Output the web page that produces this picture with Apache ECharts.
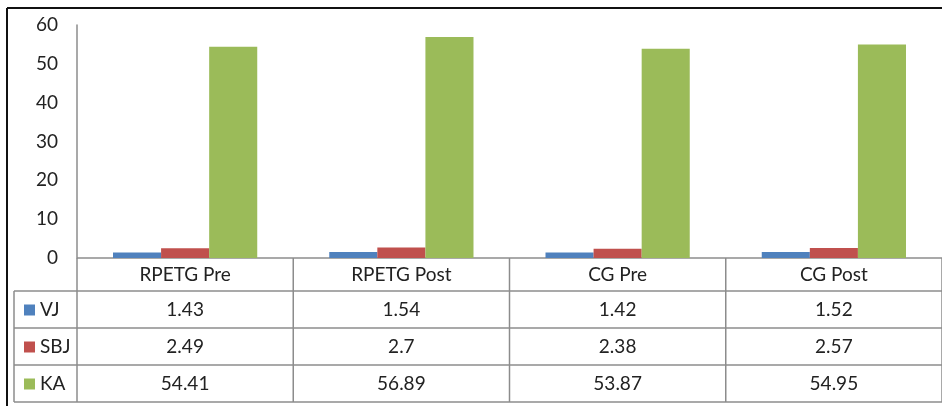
<!DOCTYPE html>
<html>
<head>
<meta charset="utf-8">
<script src="https://cdn.jsdelivr.net/npm/echarts@6/dist/echarts.min.js"></script>
<style>
  html, body { margin: 0; padding: 0; background: #fff; }
  #chart { width: 942px; height: 406px; }
</style>
</head>
<body>
<div id="chart"></div>
<script>
// data
const categories = ['RPETG Pre', 'RPETG Post', 'CG Pre', 'CG Post']
const seriesNames = ['VJ', 'SBJ', 'KA']
const vjValues = [1.43, 1.54, 1.42, 1.52]
const sbjValues = [2.49, 2.7, 2.38, 2.57]
const kaValues = [54.41, 56.89, 53.87, 54.95]
const yMin = 0, yMax = 60, yStep = 10

const colors = ['#4F81BD', '#C0504D', '#9BBB59']
const allValues = [vjValues, sbjValues, kaValues]
const font = 'Lato, "Open Sans", sans-serif'
const fontSize = 19
const lineColor = '#8c8c8c'

const chart = echarts.init(document.getElementById('chart'))

chart.setOption({
  animation: false,
  textStyle: { fontFamily: font },
  grid: { left: 77, right: -2, top: 25, bottom: 148 },
  xAxis: {
    type: 'category',
    data: categories,
    axisLine: { show: false },
    axisTick: { show: false },
    axisLabel: { color: '#222', fontSize: fontSize, margin: 7, verticalAlign: 'top' }
  },
  yAxis: {
    type: 'value',
    min: yMin, max: yMax, interval: yStep,
    axisLine: { show: true, lineStyle: { color: '#8c8c8c', width: 1.5 } },
    axisTick: { show: false },
    splitLine: { show: false },
    axisLabel: { color: '#222', fontSize: fontSize, margin: 19 }
  },
  series: allValues.map((vals, i) => ({
    name: seriesNames[i],
    type: 'bar',
    data: vals,
    barGap: '0%',
    barCategoryGap: '33.3%',
    itemStyle: { color: colors[i] }
  }))
})

// data table under the plot, positioned from the axes
const xs = categories.map(c => chart.convertToPixel({ xAxisIndex: 0 }, c))
const band = xs[1] - xs[0]
const zeroY = chart.convertToPixel({ yAxisIndex: 0 }, 0)
const tableLeft = 14
const plotLeft = xs[0] - band / 2
const bounds = xs.map(x => x - band / 2).concat([xs[xs.length - 1] + band / 2])
const headerBottom = zeroY + 33
const rowH = 37
const rowTops = [0, 1, 2, 3].map(k => headerBottom + k * rowH)
const tableBottom = rowTops[3]

const g = []
const line = (x1, y1, x2, y2, color, w) => g.push({
  type: 'line', silent: true,
  shape: { x1, y1, x2, y2 },
  style: { stroke: color || lineColor, lineWidth: w || 1.5 }
})

// outer chart frame (top and left)
line(7, 8, 942, 8, '#111', 2)
line(7, 8, 7, 406, '#111', 2)

// horizontal rules
line(plotLeft, zeroY, 942, zeroY)
rowTops.forEach(y => line(tableLeft, y, 942, y))
// vertical rules
bounds.forEach(x => line(x, zeroY, x, tableBottom))
line(tableLeft, headerBottom, tableLeft, tableBottom)

// rows: legend key + values
seriesNames.forEach((name, r) => {
  const cy = rowTops[r] + rowH / 2
  g.push({
    type: 'rect', silent: true,
    shape: { x: 24, y: cy - 5, width: 11, height: 11 },
    style: { fill: colors[r] }
  })
  g.push({
    type: 'text', silent: true,
    x: 40, y: cy,
    style: { text: name, fill: '#222', font: fontSize + 'px ' + font, verticalAlign: 'middle' }
  })
  allValues[r].forEach((v, c) => {
    g.push({
      type: 'text', silent: true,
      x: xs[c], y: cy,
      style: { text: String(v), fill: '#222', font: fontSize + 'px ' + font, align: 'center', verticalAlign: 'middle' }
    })
  })
})

chart.setOption({ graphic: g })
</script>
</body>
</html>
